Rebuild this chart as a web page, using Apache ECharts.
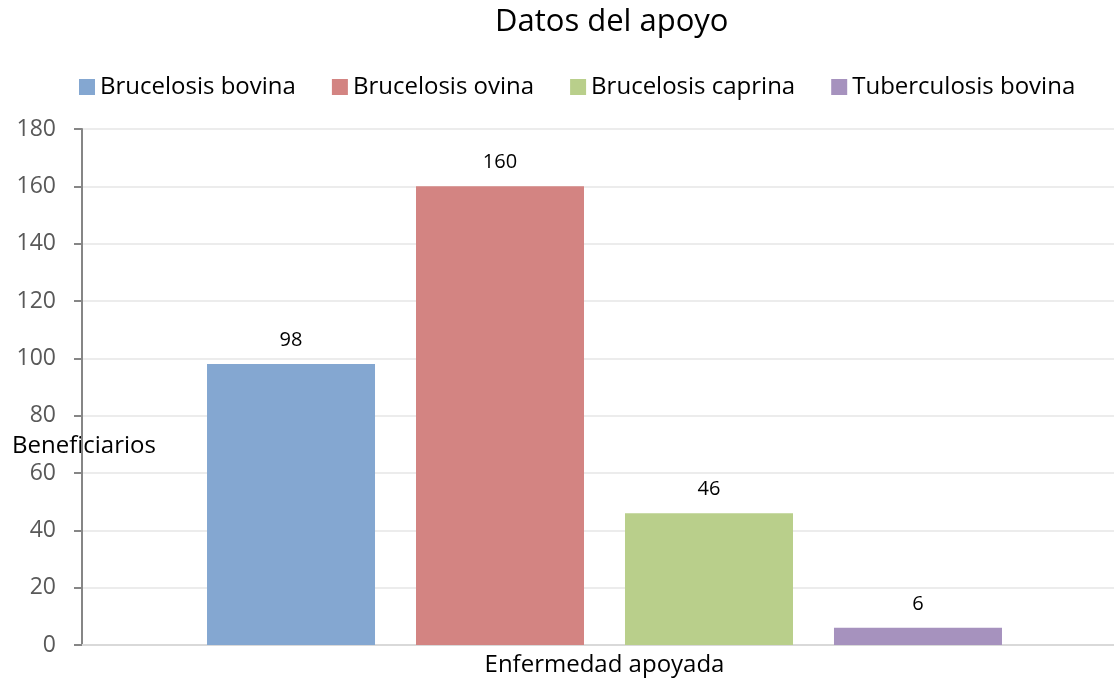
<!DOCTYPE html>
<html>
<head>
<meta charset="utf-8">
<script src="https://cdn.jsdelivr.net/npm/echarts@6/dist/echarts.min.js"></script>
<style>
  html, body { margin: 0; padding: 0; background: #fff; }
  #chart { width: 1114px; height: 682px; }
</style>
</head>
<body>
<div id="chart"></div>
<script>
const categories = ['Enfermedad apoyada']
const seriesNames = ['Brucelosis bovina', 'Brucelosis ovina', 'Brucelosis caprina', 'Tuberculosis bovina']
const seriesValues = [98, 160, 46, 6]
const seriesColors = ['#84a7d1', '#d38482', '#b9cf8b', '#a692be']

const chart = echarts.init(document.getElementById('chart'))
const font = '"Open Sans", "Noto Sans", sans-serif'

const option = {
  animation: false,
  title: {
    text: 'Datos del apoyo',
    left: 490,
    top: 2,
    textStyle: { fontFamily: font, fontSize: 31, fontWeight: 'normal', color: '#000' }
  },
  legend: {
    top: 70,
    left: 74,
    itemWidth: 16,
    itemHeight: 16,
    itemGap: 36,
    icon: 'rect',
    textStyle: { fontFamily: font, fontSize: 24, color: '#000' },
    data: seriesNames
  },
  graphic: [{
    type: 'text',
    left: 12,
    top: 434,
    style: { text: 'Beneficiarios', font: '24px ' + font, fill: '#000' }
  }],
  grid: { left: 82, width: 1045, top: 129, bottom: 37, outerBoundsMode: 'none', containLabel: false },
  xAxis: {
    type: 'category',
    data: categories,
    axisLine: { lineStyle: { color: '#d9d9d9', width: 2 } },
    axisTick: { show: false },
    axisLabel: { fontFamily: font, fontSize: 24, color: '#000', margin: 8 }
  },
  yAxis: {
    type: 'value',
    min: 0,
    max: 180,
    interval: 20,
    axisLine: { show: true, lineStyle: { color: '#868686', width: 2 } },
    axisTick: { show: true, length: 8, lineStyle: { color: '#868686', width: 2 } },
    axisLabel: { fontFamily: font, fontSize: 23, color: '#595959', margin: 26 },
    splitLine: { lineStyle: { color: '#ececec', width: 2 } }
  },
  series: seriesNames.map((name, i) => ({
    name: name,
    type: 'bar',
    data: [seriesValues[i]],
    barWidth: 168,
    barGap: '24.4%',
    itemStyle: { color: seriesColors[i] },
    label: {
      show: true,
      position: 'top',
      distance: 14,
      fontFamily: font,
      fontSize: 20,
      color: '#000'
    }
  }))
}

chart.setOption(option)
</script>
</body>
</html>
